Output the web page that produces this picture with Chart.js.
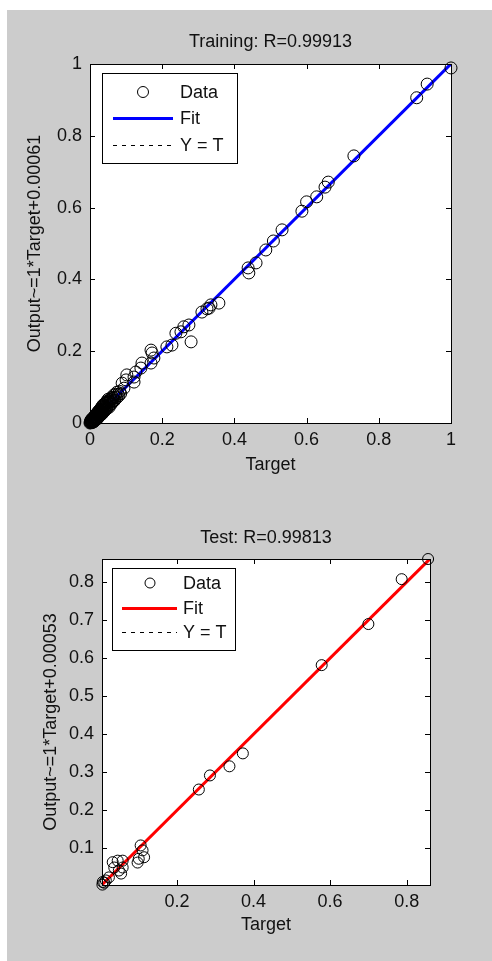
<!DOCTYPE html>
<html>
<head>
<meta charset="utf-8">
<script src="https://cdn.jsdelivr.net/npm/chart.js@4.4.1/dist/chart.umd.min.js"></script>
<style>
  html, body { margin: 0; padding: 0; background: #fff; }
  body { width: 492px; height: 961px; position: relative; overflow: hidden; }
  #bg { position: absolute; left: 7px; top: 10px; width: 485px; height: 951px; background: #cccccc; }
  canvas { position: absolute; left: 0; }
  #train { top: 0; }
  #test { top: 480px; }
</style>
</head>
<body>
<div id="bg"></div>
<canvas id="train" width="492" height="480"></canvas>
<canvas id="test" width="492" height="481"></canvas>
<script>
// Training set: target vs network output
const trainTarget = [1.000, 0.934, 0.905, 0.731, 0.660, 0.651, 0.628, 0.600, 0.587, 0.532,
  0.508, 0.487, 0.460, 0.438, 0.440, 0.357, 0.335, 0.330, 0.324, 0.310,
  0.280, 0.274, 0.260, 0.252, 0.238, 0.227, 0.213, 0.169, 0.172, 0.177,
  0.169, 0.144, 0.141, 0.127, 0.122, 0.102, 0.100, 0.089, 0.122, 0.094,
  0.085, 0.082, 0.078, 0.075, 0.070, 0.068, 0.066, 0.064, 0.062, 0.058,
  0.058, 0.055, 0.052, 0.052, 0.050, 0.048, 0.047, 0.046, 0.045, 0.043,
  0.042, 0.041, 0.040, 0.038, 0.037, 0.036, 0.035, 0.033, 0.033, 0.032,
  0.031, 0.030, 0.028, 0.028, 0.027, 0.027, 0.025, 0.024, 0.024, 0.023,
  0.022, 0.021, 0.020, 0.020, 0.019, 0.019, 0.018, 0.017, 0.016, 0.016,
  0.015, 0.015, 0.014, 0.013, 0.013, 0.012, 0.012, 0.011, 0.010, 0.010,
  0.009, 0.008, 0.008, 0.007, 0.006, 0.006, 0.005, 0.004, 0.004, 0.003,
  0.002, 0.002, 0.001, 0.000,
  0.003, 0.005, 0.007, 0.009, 0.011, 0.013, 0.014, 0.017, 0.018, 0.021,
  0.022, 0.025, 0.026, 0.029, 0.030, 0.034, 0.035, 0.039, 0.040, 0.044,
  0.046, 0.050, 0.053, 0.056, 0.060, 0.063, 0.067, 0.071, 0.074, 0.080];
const trainOutput = [0.989, 0.944, 0.906, 0.744, 0.671, 0.657, 0.630, 0.616, 0.590, 0.538,
  0.507, 0.482, 0.446, 0.432, 0.418, 0.334, 0.329, 0.320, 0.318, 0.309,
  0.226, 0.273, 0.268, 0.254, 0.250, 0.217, 0.212, 0.203, 0.195, 0.181,
  0.167, 0.167, 0.153, 0.142, 0.128, 0.134, 0.120, 0.111, 0.114, 0.097,
  0.082, 0.088, 0.080, 0.086, 0.072, 0.064, 0.078, 0.068, 0.060, 0.070,
  0.052, 0.058, 0.062, 0.047, 0.066, 0.050, 0.041, 0.060, 0.055, 0.037,
  0.046, 0.054, 0.040, 0.044, 0.030, 0.050, 0.036, 0.040, 0.025, 0.044,
  0.030, 0.034, 0.027, 0.021, 0.031, 0.037, 0.024, 0.028, 0.017, 0.032,
  0.021, 0.025, 0.018, 0.012, 0.022, 0.027, 0.015, 0.019, 0.013, 0.009,
  0.017, 0.022, 0.011, 0.014, 0.006, 0.009, 0.017, 0.012, 0.007, 0.003,
  0.010, 0.005, 0.013, 0.008, 0.004, 0.001, 0.006, 0.002, 0.009, 0.004,
  0.001, 0.006, 0.003, 0.000,
  0.008, 0.011, 0.003, 0.015, 0.005, 0.019, 0.008, 0.024, 0.010, 0.029,
  0.014, 0.034, 0.019, 0.038, 0.023, 0.046, 0.028, 0.050, 0.033, 0.057,
  0.040, 0.058, 0.044, 0.064, 0.055, 0.072, 0.062, 0.080, 0.070, 0.076];
const trainLim = [0, 1];
const trainFitX = [0, 1];
const trainFitY = [0.00061, 1.00061];
const trainTicks = [0, 0.2, 0.4, 0.6, 0.8, 1];

// Test set
const testTarget = [0.856, 0.787, 0.700, 0.578, 0.372, 0.337, 0.286, 0.257, 0.105, 0.110,
  0.114, 0.097, 0.100, 0.058, 0.045, 0.032, 0.036, 0.048, 0.054, 0.058,
  0.022, 0.014, 0.006, 0.010, 0.005];
const testOutput = [0.861, 0.808, 0.690, 0.582, 0.350, 0.316, 0.292, 0.255, 0.108, 0.095,
  0.077, 0.063, 0.073, 0.068, 0.068, 0.064, 0.050, 0.042, 0.034, 0.050,
  0.024, 0.016, 0.012, 0.010, 0.005];
const testLim = [0.004, 0.861];
const testFitX = [0.004, 0.861];
const testFitY = [0.00453, 0.86153];
const testXTicks = [0.2, 0.4, 0.6, 0.8];
const testYTicks = [0.1, 0.2, 0.3, 0.4, 0.5, 0.6, 0.7, 0.8];

const ink = '#111';
const family = 'Arial, "Liberation Sans", sans-serif';
const font = { family: family, size: 18, weight: 'normal', lineHeight: 1.2 };

const zip = (xs, ys) => xs.map((x, i) => ({ x: x, y: ys[i] }));

// matlab-like axes box: white area, inward ticks on all sides, title, boxed legend
const matlabAxes = {
  id: 'matlabAxes',
  beforeDraw(chart) {
    const a = chart.chartArea, ctx = chart.ctx;
    ctx.save();
    ctx.fillStyle = '#fff';
    ctx.fillRect(a.left, a.top, a.right - a.left, a.bottom - a.top);
    ctx.restore();
  },
  afterDraw(chart, args, opts) {
    const { ctx, chartArea: a, scales: { x, y } } = chart;
    const L = opts.tickLen;
    ctx.save();
    ctx.strokeStyle = '#000';
    ctx.lineWidth = 1;
    ctx.beginPath();
    x.ticks.forEach(t => {
      const px = Math.round(x.getPixelForValue(t.value)) + 0.5;
      ctx.moveTo(px, a.bottom); ctx.lineTo(px, a.bottom - L);
      ctx.moveTo(px, a.top); ctx.lineTo(px, a.top + L);
    });
    y.ticks.forEach(t => {
      const py = Math.round(y.getPixelForValue(t.value)) + 0.5;
      ctx.moveTo(a.left, py); ctx.lineTo(a.left + L, py);
      ctx.moveTo(a.right, py); ctx.lineTo(a.right - L, py);
    });
    ctx.stroke();
    ctx.strokeRect(Math.round(a.left) + 0.5, Math.round(a.top) + 0.5,
      Math.round(a.right - a.left), Math.round(a.bottom - a.top));

    // title centred over the axes
    ctx.fillStyle = ink;
    ctx.font = '18px ' + family;
    ctx.textAlign = 'center';
    ctx.textBaseline = 'middle';
    ctx.fillText(opts.title, (a.left + a.right) / 2, a.top - opts.titleGap);

    // legend
    const lg = opts.legend;
    const bx = Math.round(a.left + lg.x), by = Math.round(a.top + lg.y);
    ctx.fillStyle = '#fff';
    ctx.fillRect(bx, by, lg.w, lg.h);
    ctx.strokeStyle = '#000';
    ctx.strokeRect(bx + 0.5, by + 0.5, lg.w, lg.h);
    chart.data.datasets.forEach((ds, i) => {
      const ry = by + lg.rows[i];
      ctx.save();
      if (ds.showLine) {
        ctx.strokeStyle = ds.borderColor;
        ctx.lineWidth = ds.borderWidth;
        ctx.setLineDash(ds.borderDash || []);
        ctx.beginPath();
        ctx.moveTo(bx + lg.line[0], ry + 0.5);
        ctx.lineTo(bx + lg.line[1], ry + 0.5);
        ctx.stroke();
      } else {
        ctx.strokeStyle = '#000';
        ctx.lineWidth = 1;
        ctx.beginPath();
        ctx.arc(bx + lg.marker, ry, ds.pointRadius - 0.5, 0, Math.PI * 2);
        ctx.stroke();
      }
      ctx.restore();
      ctx.fillStyle = ink;
      ctx.textAlign = 'left';
      ctx.fillText(ds.label, bx + lg.text, ry + 1);
    });
    ctx.restore();
  }
};

function makePlot(id, cfg) {
  return new Chart(document.getElementById(id), {
    type: 'scatter',
    data: {
      datasets: [
        {
          label: 'Data',
          data: zip(cfg.target, cfg.output),
          pointStyle: 'circle',
          pointRadius: cfg.radius,
          pointBorderWidth: 1,
          pointBorderColor: '#000',
          pointBackgroundColor: 'rgba(0,0,0,0)',
          showLine: false,
          clip: false
        },
        {
          label: 'Fit',
          data: zip(cfg.fitX, cfg.fitY),
          showLine: true,
          borderColor: cfg.fitColor,
          borderWidth: 3,
          pointRadius: 0
        },
        {
          label: 'Y = T',
          data: zip(cfg.lim, cfg.lim),
          showLine: true,
          borderColor: '#000',
          borderWidth: 1,
          borderDash: [4, 5],
          pointRadius: 0
        }
      ]
    },
    options: {
      responsive: false,
      animation: false,
      devicePixelRatio: 1,
      layout: { padding: cfg.pad },
      plugins: {
        legend: { display: false },
        tooltip: { enabled: false },
        title: { display: false },
        matlabAxes: {
          tickLen: 5,
          title: cfg.title,
          titleGap: cfg.titleGap,
          legend: cfg.legend
        }
      },
      scales: {
        x: {
          type: 'linear',
          min: cfg.lim[0],
          max: cfg.lim[1],
          afterBuildTicks: s => { s.ticks = cfg.xTicks.map(v => ({ value: v })); },
          afterFit: s => { s.height = 55; },
          grid: { display: false, drawTicks: false },
          border: { display: false },
          ticks: { color: ink, font: font, padding: 6, maxRotation: 0, autoSkip: false,
            callback: v => String(+v.toFixed(2)) },
          title: { display: true, text: 'Target', color: ink, font: font,
            padding: { top: 0, bottom: cfg.xTitlePad } }
        },
        y: {
          type: 'linear',
          min: cfg.lim[0],
          max: cfg.lim[1],
          afterBuildTicks: s => { s.ticks = cfg.yTicks.map(v => ({ value: v })); },
          afterFit: s => { s.width = cfg.yWidth; },
          grid: { display: false, drawTicks: false },
          border: { display: false },
          ticks: { color: ink, font: font, padding: 8, autoSkip: false,
            callback: v => String(+v.toFixed(2)) },
          title: { display: true, text: cfg.yTitle, color: ink, font: font,
            padding: { top: cfg.yTitlePad, bottom: 0 } }
        }
      }
    },
    plugins: [matlabAxes]
  });
}

makePlot('train', {
  target: trainTarget, output: trainOutput,
  fitX: trainFitX, fitY: trainFitY, lim: trainLim,
  xTicks: trainTicks, yTicks: trainTicks,
  fitColor: '#0000ff', radius: 6,
  title: 'Training: R=0.99913', titleGap: 22,
  yTitle: 'Output~=1*Target+0.00061',
  pad: { left: 10, right: 41, top: 64, bottom: 2 },
  yWidth: 80, yTitlePad: 14, xTitlePad: 2,
  legend: { x: 12, y: 9, w: 135, h: 90, rows: [19, 45, 72], marker: 41, line: [11, 71], text: 78 }
});

makePlot('test', {
  target: testTarget, output: testOutput,
  fitX: testFitX, fitY: testFitY, lim: testLim,
  xTicks: testXTicks, yTicks: testYTicks,
  fitColor: '#ff0000', radius: 5.5,
  title: 'Test: R=0.99813', titleGap: 21,
  yTitle: 'Output~=1*Target+0.00053',
  pad: { left: 25, right: 62, top: 79, bottom: 21 },
  yWidth: 77, yTitlePad: 15, xTitlePad: 4,
  legend: { x: 10, y: 9, w: 123, h: 82, rows: [15, 40, 64], marker: 38, line: [10, 65], text: 71 }
});
</script>
</body>
</html>
